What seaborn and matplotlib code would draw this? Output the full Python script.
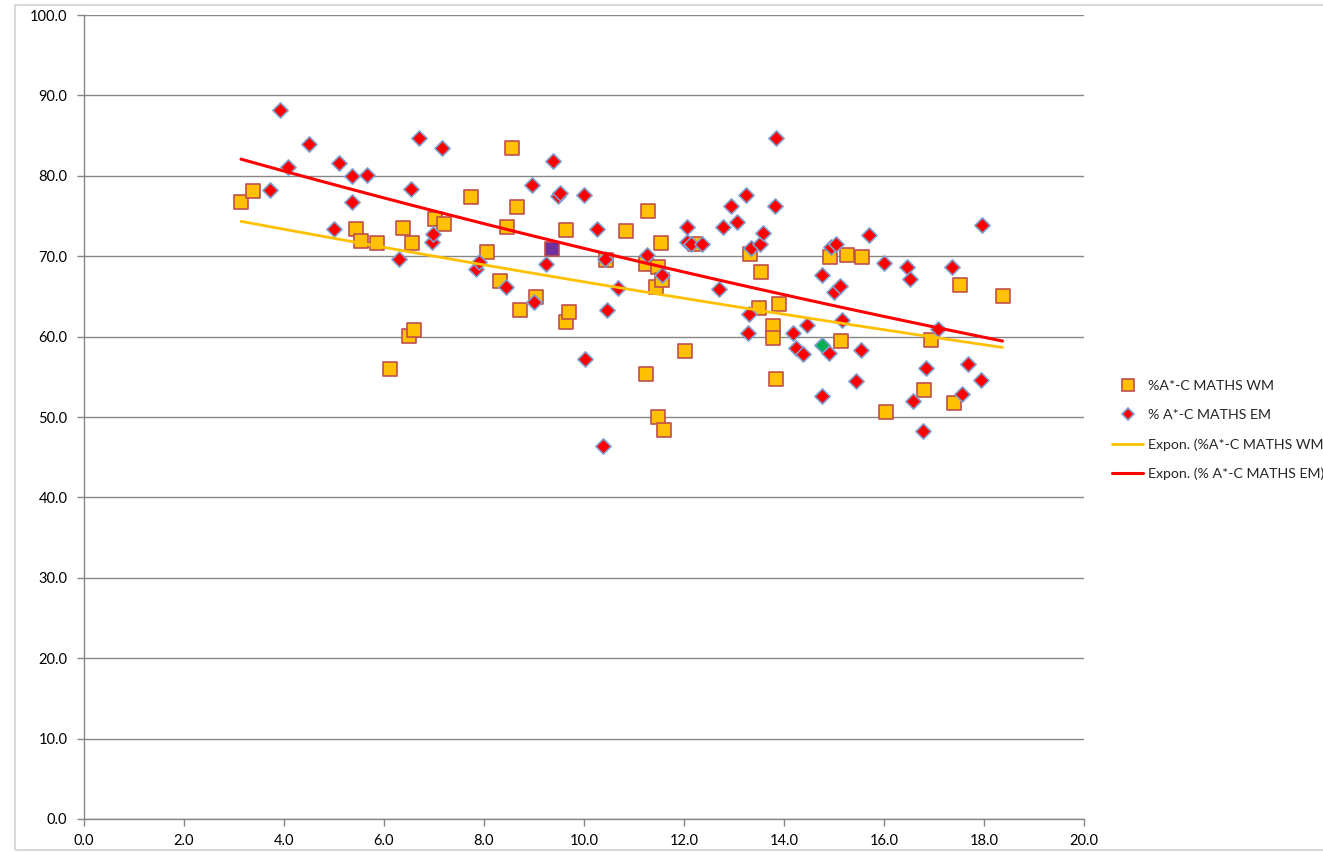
import numpy as np
import pandas as pd
import seaborn as sns
import matplotlib.pyplot as plt
from matplotlib.patches import Rectangle
from matplotlib.lines import Line2D

# %A*-C MATHS WM (squares)
wm_x = [3.14, 3.38, 5.44, 5.54, 5.86, 6.38, 6.56, 6.12, 6.50, 6.60,
        7.02, 7.20, 7.74, 8.06, 8.32, 8.46, 8.56, 8.66, 8.72, 9.04,
        9.64, 9.64, 9.70, 10.44, 10.84, 11.24, 11.28, 11.24, 11.44, 11.48,
        11.54, 11.56, 11.48, 11.60, 12.02, 12.22, 13.32, 13.54, 13.50, 13.90,
        13.78, 13.78, 13.84, 14.92, 15.25, 15.56, 15.13, 16.03, 16.94, 16.79,
        17.40, 17.52, 18.37]
wm_y = [76.7, 78.1, 73.4, 71.9, 71.6, 73.5, 71.6, 56.0, 60.1, 60.8,
        74.6, 74.0, 77.4, 70.5, 66.9, 73.6, 83.5, 76.1, 63.3, 64.9,
        73.3, 61.8, 63.1, 69.5, 73.1, 69.0, 75.6, 55.3, 66.2, 68.7,
        71.6, 67.0, 50.0, 48.4, 58.2, 71.5, 70.3, 68.0, 63.6, 64.1,
        61.3, 59.8, 54.7, 69.9, 70.2, 69.9, 59.5, 50.6, 59.6, 53.3,
        51.8, 66.4, 65.1]
# highlighted WM point
wm_hi_x = [9.36]
wm_hi_y = [70.9]

# % A*-C MATHS EM (diamonds)
em_x = [3.72, 3.91, 4.08, 4.49, 5.00, 5.10, 5.35, 5.35, 5.65, 6.29,
        6.53, 6.70, 6.96, 6.97, 7.15, 7.83, 7.89, 8.43, 8.96, 9.00,
        9.24, 9.37, 9.47, 9.52, 9.99, 10.02, 10.26, 10.37, 10.42, 10.46,
        10.68, 11.26, 11.55, 12.05, 12.05, 12.14, 12.35, 12.69, 12.77, 12.94,
        13.05, 13.24, 13.28, 13.30, 13.33, 13.51, 13.58, 13.81, 13.84, 14.17,
        14.23, 14.37, 14.46, 14.75, 14.76, 14.89, 14.93, 14.99, 15.03, 15.12,
        15.16, 15.44, 15.54, 15.69, 16.00, 16.45, 16.52, 16.58, 16.77, 16.84,
        17.07, 17.35, 17.55, 17.67, 17.93, 17.95]
em_y = [78.2, 88.2, 81.1, 83.9, 73.4, 81.6, 80.0, 76.7, 80.1, 69.7,
        78.3, 84.7, 71.8, 72.7, 83.5, 68.4, 69.3, 66.2, 78.9, 64.3,
        69.0, 81.9, 77.5, 77.9, 77.6, 57.2, 73.4, 46.4, 69.7, 63.3,
        66.1, 70.2, 67.6, 73.6, 71.8, 71.5, 71.5, 65.9, 73.6, 76.2,
        74.2, 77.6, 60.4, 62.8, 71.0, 71.5, 72.9, 76.3, 84.7, 60.5,
        58.6, 57.8, 61.5, 52.6, 67.6, 57.9, 71.2, 65.5, 71.5, 66.3,
        62.1, 54.5, 58.3, 72.6, 69.2, 68.7, 67.2, 52.0, 48.3, 56.1,
        60.9, 68.6, 52.9, 56.6, 54.6, 73.9]
# highlighted EM point
em_hi_x = [14.75]
em_hi_y = [58.9]

x_ticks = np.arange(0, 21, 2)
y_ticks = np.arange(0, 101, 10)

GOLD = "#FFC000"
GRID = "#868686"

sns.set_theme(style="white")
plt.rcParams["font.family"] = ["Lato", "DejaVu Sans"]

fig = plt.figure(figsize=(13.23, 8.52), dpi=100)
ax = fig.add_axes([84 / 1323, 1 - 819 / 852, 1000 / 1323, 804 / 852])

# outer chart border
fig.patches.append(Rectangle((15 / 1323, 2 / 852), 1.1, 1 - 7 / 852, transform=fig.transFigure,
                             fill=False, edgecolor="#D9D9D9", lw=1.5, zorder=0))

# exponential trend lines (least squares on ln y, like Excel)
all_x = np.array(wm_x + wm_hi_x + em_x + em_hi_x)
xs = np.linspace(all_x.min(), all_x.max(), 100)


def expon(x, y):
    b, ln_a = np.polyfit(np.asarray(x), np.log(np.asarray(y)), 1)
    return np.exp(ln_a) * np.exp(b * xs)


wm = pd.DataFrame({"x": wm_x, "y": wm_y})
em = pd.DataFrame({"x": em_x, "y": em_y})

sns.scatterplot(data=wm, x="x", y="y", marker="s", s=110, color=GOLD,
                edgecolor="#C0504D", linewidth=1.2, ax=ax, zorder=3)
sns.scatterplot(x=wm_hi_x, y=wm_hi_y, marker="s", s=110, color="#7030A0",
                edgecolor="#C0504D", linewidth=1.2, ax=ax, zorder=3)
sns.scatterplot(data=em, x="x", y="y", marker="D", s=60, color="#FF0000",
                edgecolor="#7F9FCF", linewidth=1.2, ax=ax, zorder=4)
sns.scatterplot(x=em_hi_x, y=em_hi_y, marker="D", s=60, color="#00B050",
                edgecolor="#7F9FCF", linewidth=1.2, ax=ax, zorder=4)

sns.lineplot(x=xs, y=expon(wm_x + wm_hi_x, wm_y + wm_hi_y), color=GOLD, lw=2, ax=ax, zorder=5)
sns.lineplot(x=xs, y=expon(em_x + em_hi_x, em_y + em_hi_y), color="#FF0000", lw=2.2, ax=ax, zorder=5)

ax.set_xlim(0, 20)
ax.set_ylim(0, 100)
ax.set_xticks(x_ticks)
ax.set_yticks(y_ticks)
ax.set_xticklabels([f"{v:.1f}" for v in x_ticks])
ax.set_yticklabels([f"{v:.1f}" for v in y_ticks])
ax.set_xlabel("")
ax.set_ylabel("")
ax.yaxis.grid(True, color=GRID, lw=1)
ax.set_axisbelow(True)
for s in ["top", "right"]:
    ax.spines[s].set_visible(False)
for s in ["left", "bottom"]:
    ax.spines[s].set_color(GRID)
    ax.spines[s].set_linewidth(1)
ax.tick_params(axis="both", which="major", length=5, width=1, color=GRID,
               labelsize=10.5, labelcolor="black", direction="out",
               bottom=True, left=True)
ax.tick_params(axis="x", pad=6)
ax.tick_params(axis="y", pad=7)

handles = [
    Line2D([], [], ls="", marker="s", ms=9, mfc=GOLD, mec="#C0504D", mew=1.2),
    Line2D([], [], ls="", marker="D", ms=6.5, mfc="#FF0000", mec="#7F9FCF", mew=1.2),
    Line2D([], [], color=GOLD, lw=2),
    Line2D([], [], color="#FF0000", lw=2.2),
]
labels = ["%A*-C MATHS WM", "% A*-C MATHS EM",
          "Expon. (%A*-C MATHS WM)", "Expon. (% A*-C MATHS EM)"]
fig.legend(handles, labels, loc="upper left", bbox_to_anchor=(1112 / 1323, 1 - 380 / 852),
           frameon=False, fontsize=10.2, handlelength=2.2, handletextpad=0.35,
           labelspacing=1.2, borderaxespad=0, borderpad=0)

fig.savefig("out.png", dpi=100)
